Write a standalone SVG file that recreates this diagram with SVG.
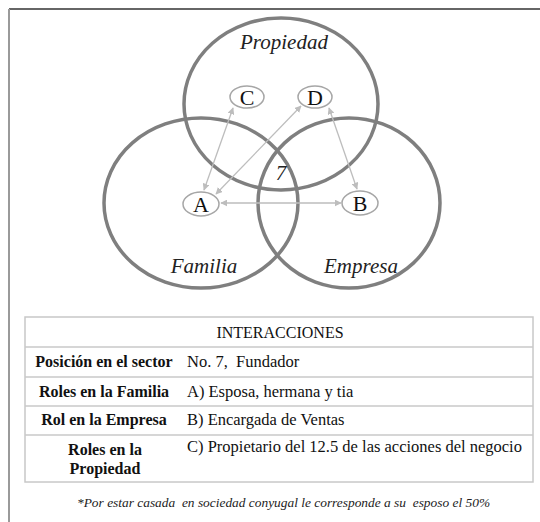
<svg xmlns="http://www.w3.org/2000/svg" width="540" height="522" viewBox="0 0 540 522">
  <style>
    .set { fill: none; stroke: #7f7f7f; stroke-width: 3.5; }
    .node ellipse { fill: #fff; stroke: #a6a6a6; stroke-width: 1.5; }
    .node text { font-family: "Liberation Serif", "Times New Roman", serif; font-size: 22px; fill: #111; text-anchor: middle; }
    .setlabel { font-family: "Liberation Serif", "Times New Roman", serif; font-style: italic; font-size: 21px; fill: #222; text-anchor: middle; }
    .link { stroke: #bdbdbd; stroke-width: 1.3; fill: none; marker-start: url(#ah); marker-end: url(#ah); }
    .grid { stroke: #c8c8c8; stroke-width: 1.5; fill: none; }
    .th { font-family: "Liberation Serif", "Times New Roman", serif; font-size: 16px; fill: #111; }
    .td { font-family: "Liberation Serif", "Times New Roman", serif; font-size: 16.5px; fill: #111; }
    .tb { font-family: "Liberation Serif", "Times New Roman", serif; font-size: 16px; font-weight: bold; fill: #111; text-anchor: middle; }
    .note { font-family: "Liberation Serif", "Times New Roman", serif; font-style: italic; font-size: 13.4px; fill: #222; }
  </style>
  <defs>
    <marker id="ah" viewBox="0 0 10 10" refX="9" refY="5" markerWidth="7" markerHeight="7" orient="auto-start-reverse" markerUnits="userSpaceOnUse">
      <path d="M0,0 L10,5 L0,10 z" fill="#bdbdbd"/>
    </marker>
  </defs>

  <rect width="540" height="522" fill="#fff"/>
  <!-- frame -->
  <line x1="9" y1="9" x2="540" y2="9" stroke="#666" stroke-width="2"/>
  <line x1="9" y1="9" x2="9" y2="522" stroke="#9a9a9a" stroke-width="2"/>

  <!-- three sets -->
  <g id="propiedad">
    <ellipse class="set" cx="281" cy="104" rx="97" ry="86"/>
    <text class="setlabel" x="284" y="49">Propiedad</text>
  </g>
  <g id="familia">
    <ellipse class="set" cx="201" cy="203" rx="97" ry="85"/>
    <text class="setlabel" x="204" y="273">Familia</text>
  </g>
  <g id="empresa">
    <ellipse class="set" cx="349" cy="203" rx="91" ry="85"/>
    <text class="setlabel" x="361" y="273">Empresa</text>
  </g>
  <text class="setlabel" x="281" y="180" font-size="17">7</text>

  <!-- connectors -->
  <g id="connectors">
    <line class="link" x1="233" y1="108" x2="204" y2="190"/>
    <line class="link" x1="301" y1="106" x2="216" y2="194"/>
    <line class="link" x1="329" y1="108" x2="357" y2="189"/>
    <line class="link" x1="221" y1="203" x2="341" y2="203"/>
  </g>

  <!-- nodes -->
  <g id="node-c" class="node">
    <ellipse cx="247" cy="97" rx="17" ry="11"/>
    <text x="247" y="105">C</text>
  </g>
  <g id="node-d" class="node">
    <ellipse cx="315" cy="97" rx="17" ry="11"/>
    <text x="315" y="105">D</text>
  </g>
  <g id="node-a" class="node">
    <ellipse cx="201" cy="204" rx="18" ry="12"/>
    <text x="201" y="212">A</text>
  </g>
  <g id="node-b" class="node">
    <ellipse cx="360" cy="203" rx="18" ry="12"/>
    <text x="360" y="211">B</text>
  </g>

  <!-- table -->
  <g id="table">
    <rect class="grid" x="25" y="317" width="508" height="165"/>
    <line class="grid" x1="25" y1="347" x2="533" y2="347"/>
    <line class="grid" x1="25" y1="377" x2="533" y2="377"/>
    <line class="grid" x1="25" y1="406" x2="533" y2="406"/>
    <line class="grid" x1="25" y1="435" x2="533" y2="435"/>
    <text class="th" x="280" y="338" text-anchor="middle">INTERACCIONES</text>
    <text class="tb" x="104" y="367">Posición en el sector</text>
    <text class="tb" x="104" y="397">Roles en la Familia</text>
    <text class="tb" x="104" y="425">Rol en la Empresa</text>
    <text class="tb" x="105" y="455">Roles en la</text>
    <text class="tb" x="105" y="474">Propiedad</text>
    <text class="td" x="187" y="367" xml:space="preserve">No. 7,  Fundador</text>
    <text class="td" x="187" y="397">A) Esposa, hermana y tia</text>
    <text class="td" x="187" y="425">B) Encargada de Ventas</text>
    <text class="td" x="187" y="452">C) Propietario del 12.5 de las acciones del negocio</text>
  </g>

  <text class="note" x="77" y="507" xml:space="preserve">*Por estar casada  en sociedad conyugal le corresponde a su  esposo el 50%</text>
</svg>
